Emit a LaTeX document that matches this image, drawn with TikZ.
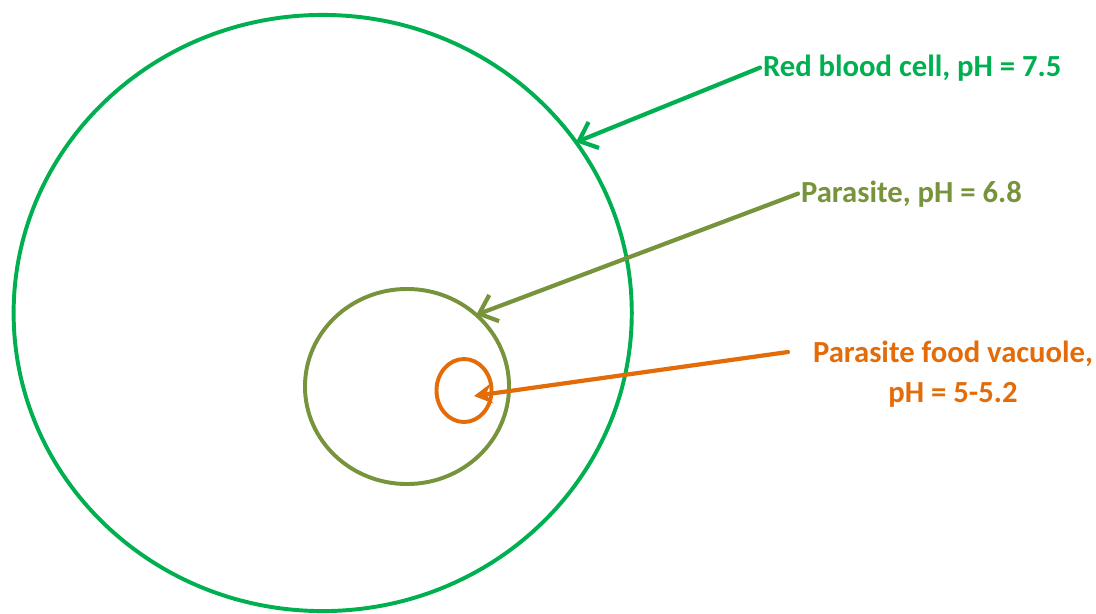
\documentclass[tikz,border=0pt]{standalone}
\usepackage{fontspec}
\setmainfont{Carlito}
\usepackage{xcolor}
\usetikzlibrary{arrows.meta, positioning, shapes.geometric}
\definecolor{rbcgreen}{HTML}{00B050}
\definecolor{paraolive}{HTML}{77933C}
\definecolor{vacorange}{HTML}{E36C09}
\begin{document}
\begin{tikzpicture}[x=0.025cm, y=-0.025cm,
  cell/.style={draw, ellipse, line width=2.8pt, inner sep=0pt, outer sep=0pt},
  lbl/.style={font=\fontsize{21.8}{28.4}\selectfont\bfseries, inner sep=2pt},
  ptr/.style={line width=3pt, line cap=round}]
  \useasboundingbox (0,0) rectangle (1096,613);
  % cells, pixel frame of the 1096x613 view (y down)
  \node[cell, rbcgreen, minimum width=15.45cm, minimum height=14.9cm] (rbc) at (322.7,313) {};
  \node[cell, paraolive, minimum width=5.1cm, minimum height=4.875cm] (para) at (407,386.5) {};
  \node[cell, vacorange, minimum width=1.375cm, minimum height=1.575cm] (vac) at (464,390.5) {};
  % labels
  \node[lbl, rbcgreen, anchor=base west] (rbclabel) at (760,76) {Red blood cell, pH = 7.5};
  \node[lbl, paraolive, anchor=base west] (paralabel) at (798,202) {Parasite, pH = 6.8};
  \node[lbl, vacorange, anchor=north, align=center] (vaclabel) at (953,338) {Parasite food vacuole,\\pH = 5-5.2};
  % pointers
  \coordinate (vacfrom) at (788,352);
  \coordinate (vacto) at (474,396);
  \draw[ptr, rbcgreen, -{Straight Barb[length=4mm, width=7mm]}] (rbclabel.west) -- (rbc.34.3);
  \draw[ptr, paraolive, -{Straight Barb[length=4mm, width=7mm]}] (paralabel.west) -- (para.46.8);
  \draw[ptr, vacorange, -{Stealth[length=4.5mm, width=5mm, inset=1.5mm]}] (vacfrom) -- (vacto);
\end{tikzpicture}
\end{document}
